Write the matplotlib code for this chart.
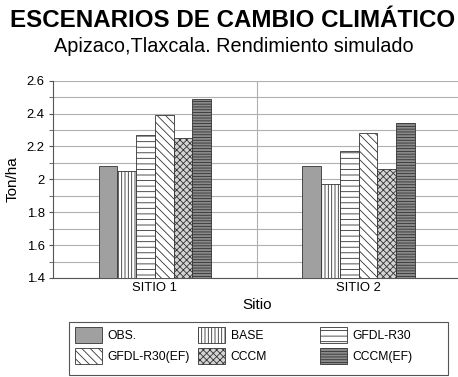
import numpy as np
import matplotlib
matplotlib.use("Agg")
import matplotlib.pyplot as plt
from matplotlib.patches import Rectangle

plt.rcParams['font.family'] = ['Liberation Sans', 'DejaVu Sans']
plt.rcParams['hatch.linewidth'] = 0.6

sites = ["SITIO 1", "SITIO 2"]
series = ["OBS.", "BASE", "GFDL-R30", "GFDL-R30(EF)", "CCCM", "CCCM(EF)"]
obs = [2.08, 2.08]
base = [2.05, 1.97]
gfdl = [2.27, 2.17]
gfdl_ef = [2.39, 2.28]
cccm = [2.25, 2.06]
cccm_ef = [2.49, 2.34]
yticks = [1.4, 1.6, 1.8, 2.0, 2.2, 2.4, 2.6]
ytick_labels = ["1.4", "1.6", "1.8", "2", "2.2", "2.4", "2.6"]

values = [obs, base, gfdl, gfdl_ef, cccm, cccm_ef]
faces = ["#a0a0a0", "#ffffff", "#ffffff", "#ffffff", "#d4d4d4", "#8a8a8a"]
hatches = [None, "|||||", "---", "\\\\\\\\", "xxxxx", "------"]

W, H = 458, 377
fig = plt.figure(figsize=(W / 100, H / 100), dpi=100)
ax = fig.add_axes([53 / W, 1 - 278 / H, 0.89, (278 - 80.7) / H])

x = np.arange(len(sites))
w = 0.092
bars = []
for i, (vals, fc, h) in enumerate(zip(values, faces, hatches)):
    off = (i - 2.5) * w
    b = ax.bar(x + off, np.array(vals) - 1.4, w, bottom=1.4, color=fc, hatch=h,
               edgecolor="#333333", linewidth=0.6, label=series[i], zorder=3)
    bars.append(b)

ax.set_xlim(-0.5, 1.5)
ax.set_ylim(1.4, 2.6)
ax.set_yticks(yticks)
ax.set_yticklabels(ytick_labels)
ax.set_yticks(np.arange(1.5, 2.6, 0.2), minor=True)
ax.grid(axis="y", which="both", color="#b0b0b0", linewidth=0.8, zorder=0)
ax.axvline(0.5, color="#b0b0b0", linewidth=0.8, zorder=0)
ax.set_xticks(x)
ax.set_xticklabels(sites)
ax.tick_params(axis="both", labelsize=9.4, length=0, pad=3)
ax.tick_params(axis="y", which="both", length=3, color="#555555")
for s in ["top", "right"]:
    ax.spines[s].set_visible(False)
ax.spines["left"].set_color("#555555")
ax.spines["bottom"].set_color("#555555")
ax.set_ylabel("Ton/ha", fontsize=11, labelpad=5)
ax.set_xlabel("Sitio", fontsize=11, labelpad=3)

fig.text(233 / W, 1 - 26.7 / H, "ESCENARIOS DE CAMBIO CLIMÁTICO", ha="center", va="baseline",
         fontsize=17.4, fontweight="bold")
fig.text(233.5 / W, 1 - 52 / H, "Apizaco,Tlaxcala. Rendimiento simulado", ha="center",
         va="baseline", fontsize=14.3)

# legend: frame plus three columns, filled row by row like the original
fig.add_artist(Rectangle((69 / W, 1 - 375 / H), (448 - 69) / W, (375 - 322) / H,
                         transform=fig.transFigure, fill=False, edgecolor="#555555",
                         linewidth=0.8))
for c, xpx in enumerate([75, 198, 320]):
    fig.legend([bars[c], bars[c + 3]], [series[c], series[c + 3]],
               loc="upper left", bbox_to_anchor=(xpx / W, 1 - 327 / H),
               frameon=False, fontsize=8.7, borderpad=0, borderaxespad=0,
               handlelength=2.24, handleheight=1.72, labelspacing=0.34,
               handletextpad=0.45)

fig.savefig("out.png", dpi=100)
